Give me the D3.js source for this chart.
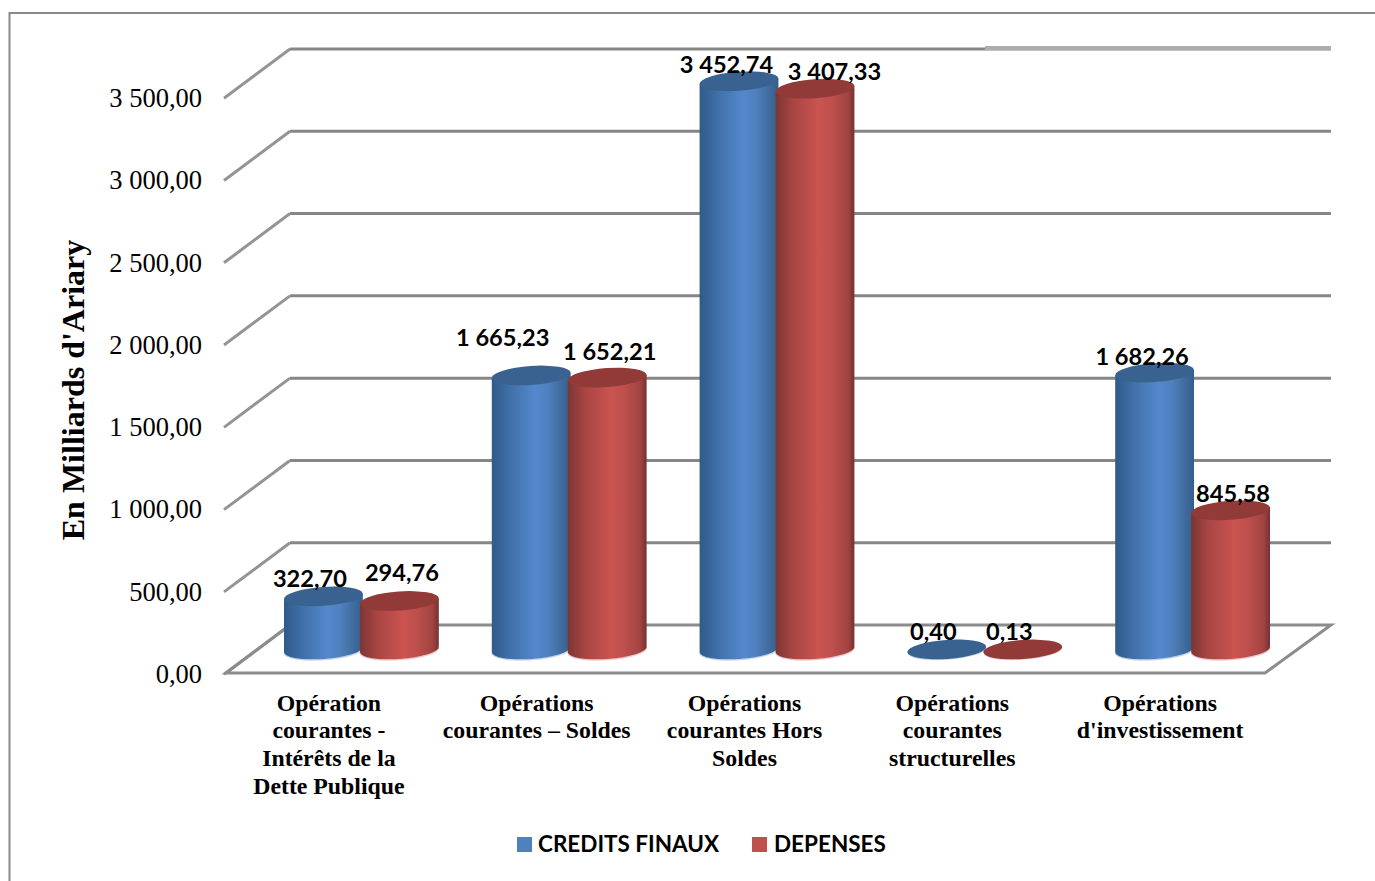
<!DOCTYPE html>
<html><head><meta charset="utf-8">
<script src="https://cdn.jsdelivr.net/npm/d3@7"></script>
<style>html,body{margin:0;padding:0;background:#fff;overflow:hidden}svg{display:block}</style>
</head><body><svg id="c" width="1375" height="881"></svg>
<script>
const categories=[["Opération","courantes -","Intérêts de la","Dette Publique"],["Opérations","courantes – Soldes"],["Opérations","courantes Hors","Soldes"],["Opérations","courantes","structurelles"],["Opérations","d'investissement"]];
const seriesNames=["CREDITS FINAUX","DEPENSES"];
const credits=[322.70,1665.23,3452.74,0.40,1682.26];
const depenses=[294.76,1652.21,3407.33,0.13,845.58];
const creditLabels=["322,70","1 665,23","3 452,74","0,40","1 682,26"];
const depenseLabels=["294,76","1 652,21","3 407,33","0,13","845,58"];
const tickValues=[0,500,1000,1500,2000,2500,3000,3500];
const tickLabels=["0,00","500,00","1 000,00","1 500,00","2 000,00","2 500,00","3 000,00","3 500,00"];
const yTitle="En Milliards d'Ariary";

const svg=d3.select("#c");
const F="Liberation Serif",L="Lato";
const dx=64,dy=48;
const yFront=d3.scaleLinear().domain([0,3500]).range([673,97]);
const yBar=d3.scaleLinear().domain([0,3500]).range([649.5,73.5]);
const x=d3.scaleBand().domain(d3.range(5)).range([226,1265]);
const rx=39.5,ry=9.5,tilt=-4;

svg.append("path").attr("d","M9.5,881V13H1375").attr("fill","none").attr("stroke","#8a8a8a").attr("stroke-width",2);

const defs=svg.append("defs");
[["gb",["#2f5a8a","#3f6fa6","#5488cc","#4f80bd","#3c6797","#325e8e"]],["gr",["#7c3533","#a84643","#cb5350","#bd4f4c","#a14441","#743130"]]].forEach(([id,cs])=>{
  const g=defs.append("linearGradient").attr("id",id);
  cs.forEach((c,i)=>g.append("stop").attr("offset",[0,.22,.55,.72,.92,1][i]).attr("stop-color",c));
});

const grid=svg.append("g");
tickValues.forEach(v=>{
  const y=yFront(v);
  grid.append("line").attr("x1",224).attr("y1",y+1.2).attr("x2",226+dx).attr("y2",y-dy).attr("stroke","#949494").attr("stroke-width",3);
  if(v>0) grid.append("line").attr("x1",226+dx).attr("y1",y-dy).attr("x2",1331).attr("y2",y-dy).attr("stroke","#868686").attr("stroke-width",3);
});
grid.append("line").attr("x1",985).attr("y1",yFront(3500)-dy-1).attr("x2",1331).attr("y2",yFront(3500)-dy-1).attr("stroke","#adadad").attr("stroke-width",4);
grid.append("path").attr("d",`M${226+dx},${yFront(0)-dy}H1331L1265,${yFront(0)}H226Z`).attr("fill","none").attr("stroke","#8c8c8c").attr("stroke-width",3);

const axis=d3.axisLeft(yFront).tickValues(tickValues).tickSize(0).tickPadding(24).tickFormat((d,i)=>tickLabels[i]);
const ga=svg.append("g").attr("transform","translate(226,1)").call(axis);
ga.select(".domain").remove();
ga.selectAll("text").attr("font-family",F).attr("font-size",26.5).attr("fill","#000");

function cyl(g,cx,v,grad,top,edge){
  const a=tilt*Math.PI/180,ex=rx*Math.cos(a),ey=rx*Math.sin(a);
  const yb=yBar(0),yt=yBar(v);
  if(yb-yt>1.5){
    g.append("path").attr("d",`M${cx-ex},${yb-ey}A${rx},${ry} ${tilt} 0 0 ${cx+ex},${yb+ey}`).attr("fill","none").attr("stroke",edge).attr("stroke-width",1.5).attr("transform","translate(0,0.5)");
    g.append("path").attr("d",`M${cx-ex},${yt-ey}L${cx-ex},${yb-ey}A${rx},${ry} ${tilt} 0 0 ${cx+ex},${yb+ey}L${cx+ex},${yt+ey}Z`).attr("fill",`url(#${grad})`);
  }else{
    g.append("ellipse").attr("cx",cx).attr("cy",yb+.8).attr("rx",rx).attr("ry",ry).attr("transform",`rotate(${tilt} ${cx} ${yb+.8})`).attr("fill",edge);
  }
  g.append("ellipse").attr("cx",cx).attr("cy",yt).attr("rx",rx).attr("ry",ry).attr("transform",`rotate(${tilt} ${cx} ${yt})`).attr("fill",top);
}
const bars=svg.append("g");
credits.forEach((v,i)=>{
  const c=x(i)+x.bandwidth()/2+31.5;
  cyl(bars,c-38,v,"gb","#3a6291","#c3d4ea");
  cyl(bars,c+38,depenses[i],"gr","#913a37","#ecc9c8");
});

const labelOff=[[-13,-9],[-28,-29],[-12,-8],[-13,-9],[-12,-8]];
const labelOff2=[[3,-20],[3,-18],[20,-9],[-13,-9],[3,-8]];
const lab=svg.append("g").attr("font-family",L).attr("font-weight",700).attr("font-size",23.6).attr("fill","#000").attr("text-anchor","middle");
credits.forEach((v,i)=>{
  const c=x(i)+x.bandwidth()/2+31;
  lab.append("text").attr("x",c-38+labelOff[i][0]).attr("y",yBar(v)+labelOff[i][1]).text(creditLabels[i]);
  lab.append("text").attr("x",c+38+labelOff2[i][0]).attr("y",yBar(depenses[i])+labelOff2[i][1]).text(depenseLabels[i]);
});

const cat=svg.append("g").attr("font-family",F).attr("font-weight",700).attr("font-size",23.8).attr("fill","#000").attr("text-anchor","middle");
categories.forEach((ls,i)=>ls.forEach((t,j)=>{
  cat.append("text").attr("x",x(i)+x.bandwidth()/2-1).attr("y",710.5+j*27.7).text(t);
}));

svg.append("text").attr("transform","translate(84,390) rotate(-90)").attr("text-anchor","middle").attr("font-family",F).attr("font-weight",700).attr("font-size",32).text(yTitle);

const lg=svg.append("g").attr("font-family",L).attr("font-weight",700).attr("font-size",22.5);
[[517,538,"#4f81bd"],[752,774,"#c0504d"]].forEach(([a,b,c],i)=>{
  lg.append("rect").attr("x",a).attr("y",837).attr("width",15).attr("height",15).attr("fill",c);
  lg.append("text").attr("x",b).attr("y",852).text(seriesNames[i]);
});
</script></body></html>
